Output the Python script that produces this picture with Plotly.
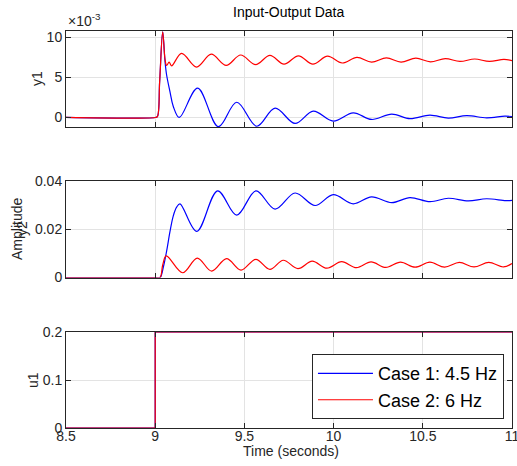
import plotly.graph_objects as go

# ---------------- data ----------------
# y1 (units of 1e-3)
t_y1_case1 = [8.5, 9.0, 9.012, 9.025, 9.042, 9.055, 9.064, 9.083, 9.101, 9.135, 9.238, 9.354,
              9.457, 9.569, 9.672, 9.784, 9.886, 9.998, 10.11, 10.213, 10.326, 10.428, 10.54,
              10.643, 10.746, 10.858, 10.96, 11.0]
y1_case1_e3 = [0, 0, 0.1, 4.5, 10.7, 7.0, 5.3, 3.2, 1.4, 0.0, 3.66, -1.15,
               1.9, -1.1, 1.16, -0.75, 0.79, -0.46, 0.58, -0.25, 0.42, -0.15, 0.3,
               -0.08, 0.22, -0.04, 0.16, 0.12]

t_y1_case2 = [8.5, 9.0, 9.012, 9.025, 9.042, 9.055, 9.064, 9.078, 9.092, 9.148, 9.232, 9.314,
              9.398, 9.479, 9.563, 9.643, 9.722, 9.803, 9.884, 9.966, 10.048, 10.131, 10.213,
              10.296, 10.378, 10.461, 10.543, 10.626, 10.708, 10.791, 10.873, 10.955, 11.0]
y1_case2_e3 = [0, 0, 0.1, 4.5, 10.7, 7.3, 6.5, 6.9, 6.45, 8.0, 6.3, 7.9,
               6.5, 7.8, 6.6, 7.75, 6.66, 7.7, 6.66, 7.66, 6.8, 7.5, 6.9,
               7.45, 6.92, 7.4, 6.95, 7.35, 7.0, 7.3, 7.0, 7.25, 7.1]

# y2
t_y2_case1 = [8.5, 9.0, 9.027, 9.046, 9.064, 9.083, 9.101, 9.12, 9.139, 9.233, 9.35, 9.457,
              9.565, 9.672, 9.784, 9.896, 9.998, 10.11, 10.213, 10.326, 10.428, 10.54,
              10.643, 10.755, 10.858, 10.965, 11.0]
y2_case1 = [0, 0, 0, 0.0045, 0.011, 0.0192, 0.0256, 0.0293, 0.0307, 0.0192, 0.0361, 0.026,
            0.0361, 0.0285, 0.0352, 0.030, 0.0345, 0.0307, 0.0336, 0.0312, 0.0333, 0.0316,
            0.033, 0.0319, 0.0328, 0.032, 0.0321]

t_y2_case2 = [8.5, 9.0, 9.027, 9.042, 9.062, 9.154, 9.236, 9.316, 9.400, 9.481, 9.564, 9.643,
              9.718, 9.800, 9.880, 9.962, 10.045, 10.128, 10.210, 10.292, 10.375, 10.457,
              10.540, 10.622, 10.705, 10.787, 10.870, 10.952, 11.0]
y2_case2 = [0, 0, 0, 0.0052, 0.009, 0.002, 0.0081, 0.0027, 0.0079, 0.0031, 0.0076, 0.0034,
            0.0072, 0.0037, 0.0068, 0.0039, 0.0066, 0.0041, 0.0065, 0.0042, 0.0064, 0.0043,
            0.0064, 0.0043, 0.0063, 0.0044, 0.0063, 0.0044, 0.0058]

# u1 (identical step for both cases)
t_u1 = [8.5, 9.0, 9.0, 11.0]
u1_case1 = [0, 0, 0.2, 0.2]
u1_case2 = [0, 0, 0.2, 0.2]

case_names = ["Case 1: 4.5 Hz", "Case 2: 6 Hz"]
case_colors = ["#0000ff", "#ff0000"]

x_ticks = [8.5, 9, 9.5, 10, 10.5, 11]
x_ticktext = ["8.5", "9", "9.5", "10", "10.5", "11"]

# ---------------- figure ----------------
FONT = "Liberation Sans, Arial, Helvetica, sans-serif"
AX = "#262626"
GRID = "#e3e3e3"

fig = go.Figure()
lw = 1.2

fig.add_trace(go.Scatter(x=t_y1_case1, y=[v * 1e-3 for v in y1_case1_e3], mode="lines",
                         line=dict(color=case_colors[0], width=lw, shape="spline", smoothing=1.0),
                         xaxis="x", yaxis="y", showlegend=False, hoverinfo="skip"))
fig.add_trace(go.Scatter(x=t_y1_case2, y=[v * 1e-3 for v in y1_case2_e3], mode="lines",
                         line=dict(color=case_colors[1], width=lw, shape="spline", smoothing=1.0),
                         xaxis="x", yaxis="y", showlegend=False, hoverinfo="skip"))
fig.add_trace(go.Scatter(x=t_y2_case1, y=y2_case1, mode="lines",
                         line=dict(color=case_colors[0], width=lw, shape="spline", smoothing=1.0),
                         xaxis="x2", yaxis="y2", showlegend=False, hoverinfo="skip"))
fig.add_trace(go.Scatter(x=t_y2_case2, y=y2_case2, mode="lines",
                         line=dict(color=case_colors[1], width=lw, shape="spline", smoothing=1.0),
                         xaxis="x2", yaxis="y2", showlegend=False, hoverinfo="skip"))
fig.add_trace(go.Scatter(x=t_u1, y=u1_case1, mode="lines", name=case_names[0],
                         line=dict(color=case_colors[0], width=lw),
                         xaxis="x3", yaxis="y3", hoverinfo="skip"))
fig.add_trace(go.Scatter(x=t_u1, y=u1_case2, mode="lines", name=case_names[1],
                         line=dict(color=case_colors[1], width=lw),
                         xaxis="x3", yaxis="y3", hoverinfo="skip"))

def xax(anchor, labels):
    return dict(anchor=anchor, range=[8.5, 11], tickvals=x_ticks, ticktext=x_ticktext,
                showticklabels=labels, showgrid=True, gridcolor=GRID, gridwidth=1,
                zeroline=False, showline=True, linecolor=AX, linewidth=1, mirror="ticks",
                ticks="inside", ticklen=5, tickcolor=AX, tickfont=dict(size=14, color=AX),
                ticklabeloverflow="allow", ticklabelstandoff=-5,
                automargin=False, fixedrange=True)

def yax(anchor, dom, rng, tv, tt):
    return dict(anchor=anchor, domain=dom, range=rng, tickvals=tv, ticktext=tt,
                showgrid=True, gridcolor=GRID, gridwidth=1, zeroline=False,
                showline=True, linecolor=AX, linewidth=1, mirror="ticks",
                ticks="inside", ticklen=5, tickcolor=AX, tickfont=dict(size=14, color=AX),
                automargin=False, fixedrange=True)

fig.update_layout(
    width=517, height=466,
    margin=dict(l=66, r=5, t=31, b=38, autoexpand=False),
    paper_bgcolor="white", plot_bgcolor="white",
    font=dict(family=FONT, size=14, color=AX),
    xaxis=xax("y", False),
    xaxis2=xax("y2", False),
    xaxis3=xax("y3", True),
    yaxis=yax("x", [0.758, 1.0], [-0.0012, 0.0108], [0, 0.005, 0.01], ["0", "5", "10"]),
    yaxis2=yax("x2", [0.379, 0.621], [0, 0.04], [0, 0.02, 0.04], ["0", "0.02", "0.04"]),
    yaxis3=yax("x3", [0.0, 0.2418], [0, 0.2], [0, 0.1, 0.2], ["0", "0.1", "0.2"]),
    legend=dict(x=0.982, xanchor="right", y=0.186, yanchor="top",
                bgcolor="white", bordercolor=AX, borderwidth=1,
                font=dict(size=18, color="#000000", family=FONT),
                itemwidth=55, tracegroupgap=0),
    showlegend=True,
)

def px_x(px):
    return (px - 66) / 446.0

def px_y(py):
    return (428 - py) / 397.0

ann = [
    dict(text="Input-Output Data", x=0.5, y=px_y(12), font=dict(size=14, color="#000000")),
    dict(text="×10<sup>-3</sup>", x=0.0, y=px_y(20), xanchor="left", font=dict(size=14, color=AX)),
    dict(text="y1", x=px_x(37), y=px_y(79), textangle=-90, font=dict(size=14, color=AX)),
    dict(text="y2", x=px_x(22), y=px_y(229), textangle=-90, font=dict(size=14, color=AX)),
    dict(text="Amplitude", x=px_x(17), y=px_y(229), textangle=-90, font=dict(size=14, color=AX)),
    dict(text="u1", x=px_x(33), y=px_y(380), textangle=-90, font=dict(size=14, color=AX)),
    dict(text="Time (seconds)", x=px_x(291), y=px_y(451), font=dict(size=14, color=AX)),
]
for a in ann:
    a.setdefault("xanchor", "center")
    a.update(xref="paper", yref="paper", yanchor="middle", showarrow=False)
fig.update_layout(annotations=ann)

fig.write_html("out.html", config={"displayModeBar": False},
               post_script="document.body.style.margin='0';document.body.style.overflow='hidden';")
